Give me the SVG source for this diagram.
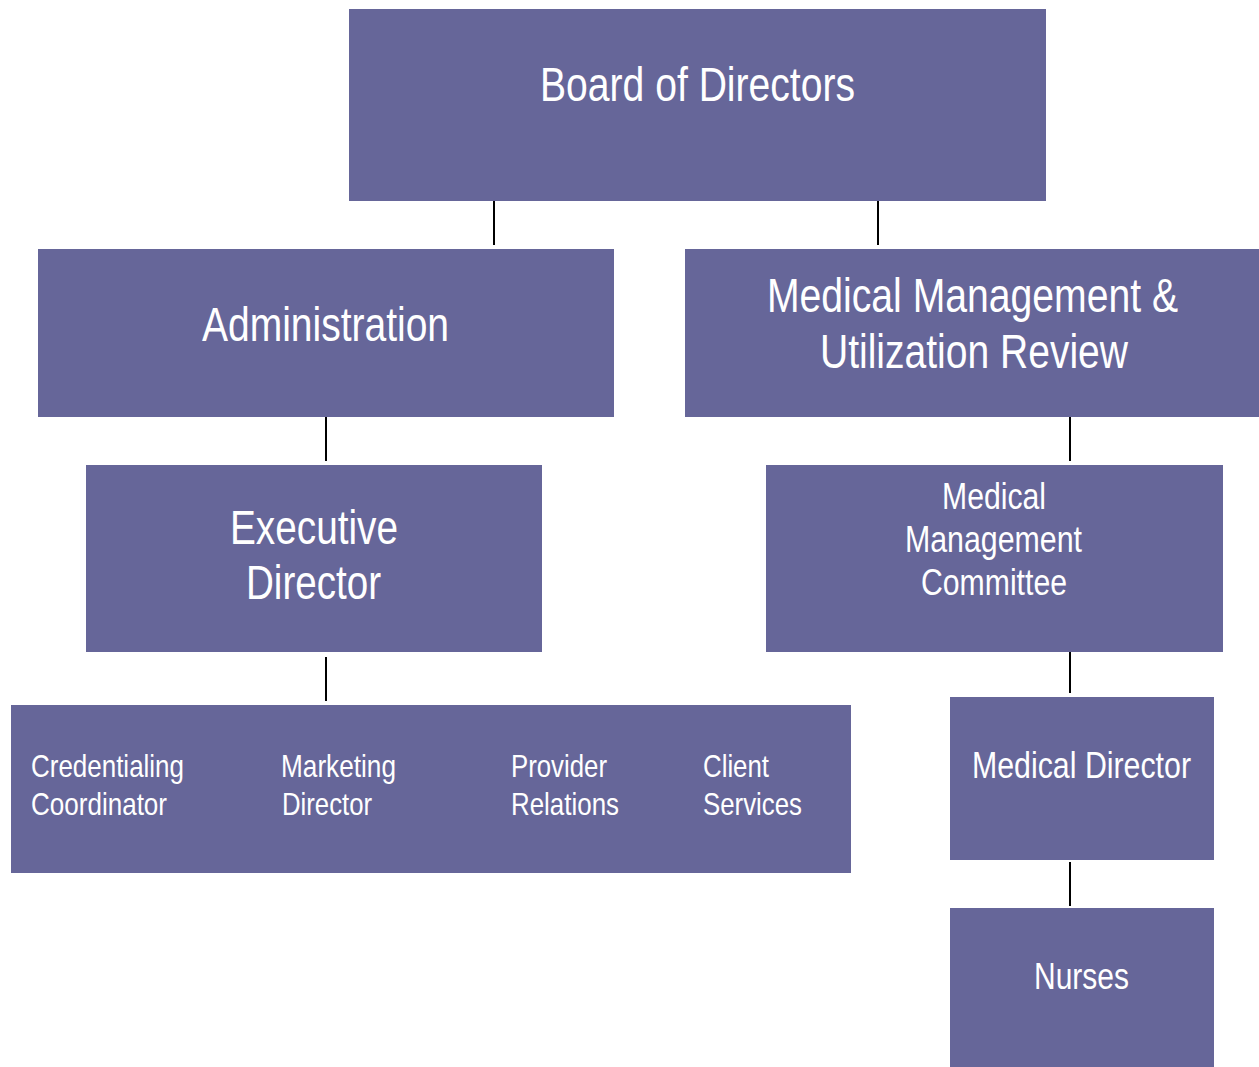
<svg xmlns="http://www.w3.org/2000/svg" width="1259" height="1067" viewBox="0 0 1259 1067">
<style>
.box{fill:#666699}
.t{fill:#ffffff;font-family:"Liberation Sans Narrow","Liberation Sans",Arial,sans-serif}
.c{text-anchor:middle}
.conn line{stroke:#000000;stroke-width:2}
</style>
<rect width="1259" height="1067" fill="#ffffff"/>
<g class="conn" id="connectors">
<line x1="494" y1="201" x2="494" y2="245"/>
<line x1="878" y1="201" x2="878" y2="245"/>
<line x1="326" y1="417" x2="326" y2="461"/>
<line x1="1070" y1="417" x2="1070" y2="461"/>
<line x1="326" y1="657" x2="326" y2="701"/>
<line x1="1070" y1="649" x2="1070" y2="693"/>
<line x1="1070" y1="862" x2="1070" y2="906"/>
</g>
<g id="board">
<rect class="box" x="349" y="9" width="697" height="192"/>
<text class="t c" x="697.5" y="101" font-size="48" textLength="315" lengthAdjust="spacingAndGlyphs">Board of Directors</text>
</g>
<g id="administration">
<rect class="box" x="38" y="249" width="576" height="168"/>
<text class="t c" x="325.5" y="341" font-size="48" textLength="247" lengthAdjust="spacingAndGlyphs">Administration</text>
</g>
<g id="mmur">
<rect class="box" x="685" y="249" width="574" height="168"/>
<text class="t c" x="972.5" y="312" font-size="48" textLength="411" lengthAdjust="spacingAndGlyphs">Medical Management &amp;</text>
<text class="t c" x="974" y="368" font-size="48" textLength="308" lengthAdjust="spacingAndGlyphs">Utilization Review</text>
</g>
<g id="executive">
<rect class="box" x="86" y="465" width="456" height="187"/>
<text class="t c" x="314" y="544" font-size="48" textLength="168" lengthAdjust="spacingAndGlyphs">Executive</text>
<text class="t c" x="313.5" y="599" font-size="48" textLength="135" lengthAdjust="spacingAndGlyphs">Director</text>
</g>
<g id="mmc">
<rect class="box" x="766" y="465" width="457" height="187"/>
<text class="t c" x="994" y="509" font-size="36" textLength="104" lengthAdjust="spacingAndGlyphs">Medical</text>
<text class="t c" x="993.5" y="552" font-size="36" textLength="177" lengthAdjust="spacingAndGlyphs">Management</text>
<text class="t c" x="994" y="595" font-size="36" textLength="146" lengthAdjust="spacingAndGlyphs">Committee</text>
</g>
<g id="staff">
<rect class="box" x="11" y="705" width="840" height="168"/>
<text class="t" x="31" y="777" font-size="32" textLength="153" lengthAdjust="spacingAndGlyphs">Credentialing</text>
<text class="t" x="31" y="815" font-size="32" textLength="136" lengthAdjust="spacingAndGlyphs">Coordinator</text>
<text class="t" x="281" y="777" font-size="32" textLength="115" lengthAdjust="spacingAndGlyphs">Marketing</text>
<text class="t" x="282" y="815" font-size="32" textLength="90" lengthAdjust="spacingAndGlyphs">Director</text>
<text class="t" x="511" y="777" font-size="32" textLength="96" lengthAdjust="spacingAndGlyphs">Provider</text>
<text class="t" x="511" y="815" font-size="32" textLength="108" lengthAdjust="spacingAndGlyphs">Relations</text>
<text class="t" x="703" y="777" font-size="32" textLength="66" lengthAdjust="spacingAndGlyphs">Client</text>
<text class="t" x="703" y="815" font-size="32" textLength="99" lengthAdjust="spacingAndGlyphs">Services</text>
</g>
<g id="medical-director">
<rect class="box" x="950" y="697" width="264" height="163"/>
<text class="t c" x="1081.5" y="778" font-size="36" textLength="219" lengthAdjust="spacingAndGlyphs">Medical Director</text>
</g>
<g id="nurses">
<rect class="box" x="950" y="908" width="264" height="159"/>
<text class="t c" x="1081.5" y="989" font-size="36" textLength="95" lengthAdjust="spacingAndGlyphs">Nurses</text>
</g>
</svg>
